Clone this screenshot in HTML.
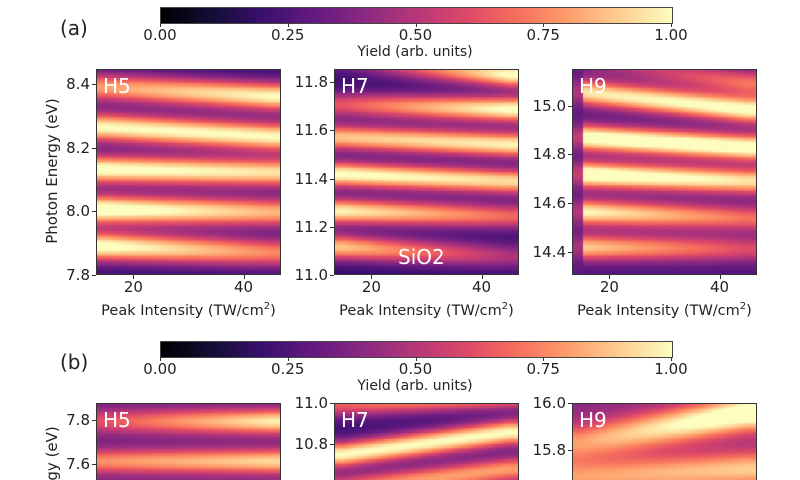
<!DOCTYPE html>
<html><head><meta charset="utf-8">
<style>
html,body{margin:0;width:800px;height:480px;overflow:hidden;background:#fff}
body{font-family:"DejaVu Sans","Liberation Sans",sans-serif;color:#222}
#root{position:relative;width:800px;height:480px;overflow:hidden}
.abs{position:absolute}
.tl{position:absolute;font-size:15px;white-space:nowrap}
canvas{position:absolute}
.frame{position:absolute;border:1px solid #333;box-sizing:border-box}
.frameb{border-bottom:none}
</style></head><body>
<div id="root"></div>
<script>
// ---- data ----
const panelNames = ['a-h5','a-h7','a-h9','b-h5','b-h7','b-h9'];
const panelLabels = ['H5','H7','H9','H5','H7','H9'];
const xRange = [13.2, 46.8];
const yRanges = [[7.8,8.447],[11.0,11.854],[14.304,15.15],[7.527,7.877],[10.624,11.0],[15.672,16.0]];
const yTicks = [[7.8,8.0,8.2,8.4],[11.0,11.2,11.4,11.6,11.8],[14.4,14.6,14.8,15.0],[7.6,7.8],[10.8,11.0],[15.8,16.0]];
const xTicks = [20,40];
const bandCenterLeft = [
 [8.387,8.262,8.13,8.004,7.888],
 [11.879,11.704,11.568,11.415,11.262,11.113],
 [15.179,15.052,14.867,14.715,14.56,14.416],
 [7.791,7.609,7.43],
 [10.99,10.746,10.576],
 [15.83,15.68]];
const bandCenterRight = [
 [8.359,8.233,8.12,7.995,7.869],
 [11.829,11.684,11.539,11.386,11.241,11.076],
 [15.09,14.98,14.826,14.687,14.535,14.408],
 [7.791,7.609,7.43],
 [11.04,10.854,10.673],
 [15.957,15.715]];
const bandAmpLeft = [
 [0.6,0.8,0.85,0.9,0.85],
 [0.15,0.45,0.7,0.85,0.8,0.7],
 [0.15,0.7,0.85,0.9,0.75,0.65],
 [0.3,0.45,0.4],
 [0.45,0.8,0.6],
 [0.4,0.4]];
const bandAmpRight = [
 [0.8,0.8,0.75,0.65,0.55],
 [0.85,0.85,0.8,0.75,0.5,0.3],
 [0.45,0.8,0.85,0.7,0.45,0.35],
 [0.65,0.6,0.5],
 [0.7,0.8,0.6],
 [0.75,0.5]];
const bandWidth = [0.032,0.038,0.038,0.04,0.045,0.055];
const baseLevel = [0.2,0.18,0.25,0.32,0.2,0.4];
const cbTicks = ['0.00','0.25','0.50','0.75','1.00'];
const magmaStops = ['#000004','#140e36','#3b0f70','#641a80','#8c2981','#b73779','#de4968','#f7705c','#fe9f6d','#fecf92','#fcfdbf'];

// ---- helpers ----
const root = document.getElementById('root');
const hex = h=>[1,3,5].map(i=>parseInt(h.substr(i,2),16));
const stops = magmaStops.map(hex);
function cmap(v){v=Math.max(0,Math.min(1,v));const f=v*10,i=Math.min(9,Math.floor(f)),t=f-i;const a=stops[i],b=stops[i+1];return `rgb(${a.map((c,k)=>Math.round(c+(b[k]-c)*t)).join(',')})`;}
function el(tag,cls,css,txt,parent){const e=document.createElement(tag);if(cls)e.className=cls;Object.assign(e.style,css);if(txt!==undefined)e.textContent=txt;(parent||root).appendChild(e);return e;}

// colorbars
[[7,'a'],[341,'b']].forEach(([cy,tag])=>{
  const c=el('canvas','',{left:'160px',top:cy+'px',border:'1px solid #444'});
  c.width=511;c.height=15;
  
  
  const g=c.getContext('2d');for(let x=0;x<511;x++){g.fillStyle=cmap(x/510);g.fillRect(x,0,1,15);}
  cbTicks.forEach((t,i)=>{const x=160+i*127.75;
    const tk=el('div','abs',{left:x+'px',top:(cy+16)+'px',width:'1px',height:'4px',background:'#333'});
    
    
    const l=el('div','tl',{left:(x-25)+'px',width:'50px',textAlign:'center',top:(cy+19)+'px'},t);
    
    
  });
  const yl=el('div','tl',{left:'315px',width:'200px',textAlign:'center',top:(cy+37)+'px',fontSize:'14px'},'Yield (arb. units)');
  
  
  const pl=el('div','tl',{left:'60px',top:(cy+9)+'px',fontSize:'20px'},'('+tag+')');
  
  
});

const lefts=[96,334,572,96,334,572];
const tops=[69,69,69,403,403,403];
const heights=[206,206,206,77,77,77];
const W=185;
for(let p=0;p<6;p++){
  const L=lefts[p],T=tops[p],H=heights[p],[y0,y1]=yRanges[p];
  const sx=v=>L+(v-xRange[0])/(xRange[1]-xRange[0])*W;
  const sy=v=>T+(y1-v)/(y1-y0)*H;
  const c=el('canvas','',{left:L+'px',top:T+'px'});c.width=W;c.height=H;
  
  
  const g=c.getContext('2d');
  const nx=62,ny=Math.round(H*0.6);
  for(let i=0;i<nx;i++){
    const xv=xRange[0]+(i+0.5)/nx*(xRange[1]-xRange[0]);
    const t=Math.max(0,Math.min(1,(xv-15)/30));
    for(let j=0;j<ny;j++){
      const ev=y1-(j+0.5)/ny*(y1-y0);
      let v=baseLevel[p];
      for(let b=0;b<bandCenterLeft[p].length;b++){
        const cc=bandCenterLeft[p][b]+(bandCenterRight[p][b]-bandCenterLeft[p][b])*t;
        const a=bandAmpLeft[p][b]+(bandAmpRight[p][b]-bandAmpLeft[p][b])*t;
        const d=(ev-cc)/bandWidth[p];v+=a*Math.exp(-d*d/2);
      }
      if(p===2&&xv<15.2)v=v*0.3+0.2;
      g.fillStyle=cmap(v);
      const X0=sx(xv-(xRange[1]-xRange[0])/nx/2)-L,X1=sx(xv+(xRange[1]-xRange[0])/nx/2)-L;
      g.fillRect(Math.floor(X0),Math.floor(j*H/ny),Math.ceil(X1-X0)+1,Math.ceil(H/ny)+1);
    }
  }
  const fr=el('div',p<3?'frame':'frame frameb',{left:L+'px',top:T+'px',width:W+'px',height:H+'px'});
  
  
  const hl=el('div','tl',{left:(L+7)+'px',top:(T+5)+'px',color:'#fff',fontSize:'20px'},panelLabels[p]);
  
  
  yTicks[p].forEach(v=>{const y=sy(v);
    const tk=el('div','abs',{left:(L-4)+'px',top:y+'px',width:'4px',height:'1px',background:'#333'});
    
    
    const l=el('div','tl',{left:(L-56)+'px',width:'50px',textAlign:'right',top:(y-9)+'px'},v.toFixed(1));
    
    
  });
  if(p<3){
    xTicks.forEach(v=>{const x=sx(v);
      const tk=el('div','abs',{left:x+'px',top:(T+H)+'px',width:'1px',height:'4px',background:'#333'});
      
      
      const l=el('div','tl',{left:(x-25)+'px',width:'50px',textAlign:'center',top:(T+H+3)+'px'},String(v));
      
      
    });
    const xl=el('div','tl',{left:(L+W/2-110)+'px',width:'220px',textAlign:'center',top:(T+H+26)+'px',fontSize:'14.5px'});
    xl.innerHTML='Peak Intensity (TW/cm<sup style="font-size:10px">2</sup>)';
    
    
  }
}
const sio=el('div','tl',{left:'398px',top:'245px',color:'#fff',fontSize:'20px'},'SiO2');


const yta=el('div','tl',{left:'-38px',top:'162px',width:'180px',textAlign:'center',transform:'rotate(-90deg)',fontSize:'15px'},'Photon Energy (eV)');


const clip=el('div','abs',{left:'40px',top:'400px',width:'30px',height:'80px',overflow:'hidden'});


const ytb=el('div','tl',{left:'-78px',top:'90px',width:'180px',textAlign:'center',transform:'rotate(-90deg)',fontSize:'15px'},'Photon Energy (eV)',clip);


</script>
</body></html>
